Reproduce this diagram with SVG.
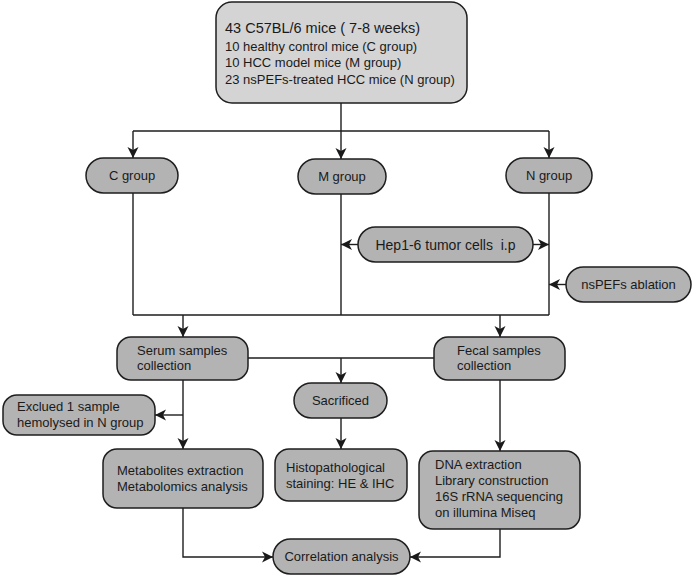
<svg xmlns="http://www.w3.org/2000/svg" width="692" height="577" viewBox="0 0 692 577">
<style>
.box{fill:#b3b3b3;stroke:#1e1e1e;stroke-width:1.5}
.top{fill:#d4d4d4;stroke:#1e1e1e;stroke-width:1.5}
text{font-family:"Liberation Sans",Arial,sans-serif;font-size:13px;fill:#1a1a1a}
.c{text-anchor:middle}
.ln{fill:none;stroke:#1e1e1e;stroke-width:1.4}
.ar{fill:none;stroke:#1e1e1e;stroke-width:1.4;marker-end:url(#ah)}
</style>
<defs>
<marker id="ah" markerUnits="userSpaceOnUse" markerWidth="12" markerHeight="12" refX="11" refY="6" orient="auto">
<path d="M0,0.5 L11,6 L0,11.5 L3,6 z" fill="#1a1a1a"/>
</marker>
</defs>
<rect width="692" height="577" fill="#ffffff"/>
<g id="connectors">
<path class="ln" d="M341,103 V131 M133,131 H549"/>
<path class="ar" d="M133,131 V158"/>
<path class="ar" d="M341,131 V159"/>
<path class="ar" d="M549,131 V158"/>
<path class="ln" d="M133,193 V315 M341,194 V315 M549,193 V315 M133,315 H549"/>
<path class="ar" d="M358,244.5 H341"/>
<path class="ar" d="M533,244.5 H549"/>
<path class="ar" d="M566,284.5 H549"/>
<path class="ar" d="M183,315 V337"/>
<path class="ar" d="M500,315 V337"/>
<path class="ln" d="M248,358 H434"/>
<path class="ar" d="M341,358 V383"/>
<path class="ar" d="M183,380 V449"/>
<path class="ar" d="M183,415 H155"/>
<path class="ar" d="M341,418 V449"/>
<path class="ar" d="M500,380 V451"/>
<path class="ar" d="M183,508 V557 H273"/>
<path class="ar" d="M500,529 V557 H410"/>
</g>
<g id="top">
<rect class="top" x="216" y="2" width="251" height="101" rx="16"/>
<text x="225" y="33" style="font-size:14.5px">43 C57BL/6 mice ( 7-8 weeks)</text>
<text x="225" y="50.5">10 healthy control mice (C group)</text>
<text x="225" y="66.5">10 HCC model mice (M group)</text>
<text x="225" y="83.5">23 nsPEFs-treated HCC mice (N group)</text>
</g>
<g id="cgroup">
<rect class="box" x="86" y="158" width="92" height="35" rx="17.5"/>
<text class="c" x="132" y="180">C group</text>
</g>
<g id="mgroup">
<rect class="box" x="298" y="159" width="88" height="35" rx="17.5"/>
<text class="c" x="342" y="181">M group</text>
</g>
<g id="ngroup">
<rect class="box" x="506" y="158" width="86" height="35" rx="17.5"/>
<text class="c" x="549" y="180">N group</text>
</g>
<g id="hep">
<rect class="box" x="358" y="227" width="175" height="35" rx="17.5"/>
<text class="c" x="445.5" y="249.5" style="font-size:14px;white-space:pre" xml:space="preserve">Hep1-6 tumor cells  i.p</text>
</g>
<g id="nspefs">
<rect class="box" x="566" y="267" width="125" height="35" rx="17.5"/>
<text class="c" x="628.5" y="289">nsPEFs ablation</text>
</g>
<g id="serum">
<rect class="box" x="117" y="337" width="131" height="43" rx="14"/>
<text x="137" y="354.5">Serum samples</text>
<text x="137" y="370">collection</text>
</g>
<g id="fecal">
<rect class="box" x="434" y="337" width="131" height="43" rx="14"/>
<text x="457" y="354.5">Fecal samples</text>
<text x="457" y="370">collection</text>
</g>
<g id="exclude">
<rect class="box" x="3" y="395" width="152" height="40" rx="14"/>
<text x="17" y="411">Exclued 1 sample</text>
<text x="17" y="427">hemolysed in N group</text>
</g>
<g id="sacrificed">
<rect class="box" x="294" y="383" width="93" height="35" rx="17.5"/>
<text class="c" x="340.5" y="405">Sacrificed</text>
</g>
<g id="metabolites">
<rect class="box" x="103" y="449" width="160" height="59" rx="14"/>
<text x="117" y="475">Metabolites extraction</text>
<text x="117" y="491">Metabolomics analysis</text>
</g>
<g id="histo">
<rect class="box" x="275" y="449" width="132" height="52" rx="14"/>
<text x="286" y="472">Histopathological</text>
<text x="286" y="488">staining: HE &amp; IHC</text>
</g>
<g id="dna">
<rect class="box" x="419" y="451" width="161" height="78" rx="14"/>
<text x="435" y="468.5">DNA extraction</text>
<text x="435" y="485">Library construction</text>
<text x="435" y="501">16S rRNA sequencing</text>
<text x="435" y="517">on illumina Miseq</text>
</g>
<g id="correlation">
<rect class="box" x="273" y="539" width="137" height="35" rx="17.5"/>
<text class="c" x="341.5" y="561">Correlation analysis</text>
</g>
</svg>
